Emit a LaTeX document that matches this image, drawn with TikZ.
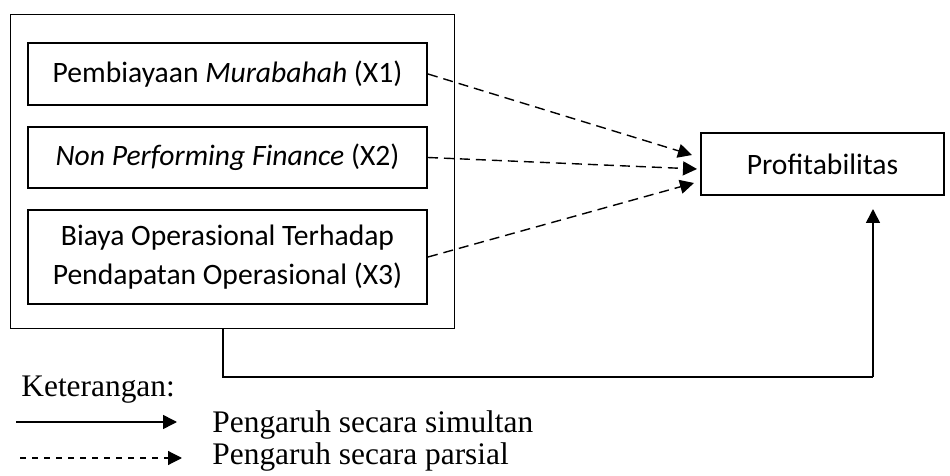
\documentclass[tikz,border=0pt]{standalone}
\usepackage{fontspec}
\setmainfont{Liberation Serif}
\newfontfamily\boxfont{Carlito}
\usetikzlibrary{arrows.meta,calc}

\begin{document}
\begin{tikzpicture}[x=0.5pt,y=-0.5pt,
    tip/.style={-{Triangle[length=7pt,width=7pt]}},
    simul/.style={tip,line width=0.8pt},
    parsial/.style={tip,line width=0.7pt,dash pattern=on 5pt off 3pt},
    legtext/.style={anchor=base west,inner sep=0pt,font=\fontsize{15.7}{18}\selectfont}]
      \useasboundingbox (0,0) rectangle (950,476);
      \node[draw,line width=0.5pt,minimum width=222pt,minimum height=157pt,inner sep=0pt] (grp) at (232,172) {};
      \begin{scope}[every node/.style={draw,line width=1pt,font=\boxfont\fontsize{14.8}{19.5}\selectfont,
          align=center,minimum width=199.5pt,inner sep=0pt}]
        \node[minimum height=31pt] (x1) at (227.5,74) {Pembiayaan \textit{Murabahah} (X1)};
        \node[minimum height=30.5pt] (x2) at (227.5,157.5) {\textit{Non Performing Finance} (X2)};
        \node[minimum height=47pt] (x3) at (227.5,257) {Biaya Operasional Terhadap\\ Pendapatan Operasional (X3)};
        \node[minimum width=121.5pt,minimum height=31pt] (y) at (822.5,164) {Profitabilitas};
      \end{scope}
      \begin{scope}[every path/.style={parsial}]
        \draw (x1.east) -- ($(y.west)+(-8,-9)$);
        \draw (x2.east) -- ($(y.west)+(-3,5)$);
        \draw (x3.east) -- ($(y.west)+(-6,19)$);
      \end{scope}
      \coordinate (s0) at (223,329);
      \coordinate (s1) at (873,377);
      \draw[line width=0.6pt] (s0) |- (s1);
      \draw[simul] (s1) -- ($(y.south)+(50.5,13)$);
      % keterangan
      \node[legtext] (ket) at (21,397) {Keterangan:};
      \node[legtext] (lsim) at (212,433) {Pengaruh secara simultan};
      \node[legtext] (lpar) at (212,465) {Pengaruh secara parsial};
      \coordinate (a0) at (16,422);
      \coordinate (a1) at (177,422);
      \coordinate (b0) at (20,458);
      \coordinate (b1) at (182,458);
      \draw[simul] (a0) -- (a1);
      \draw[tip,line width=0.6pt,dash pattern=on 3pt off 3pt] (b0) -- (b1);
    \end{tikzpicture}
\end{document}
